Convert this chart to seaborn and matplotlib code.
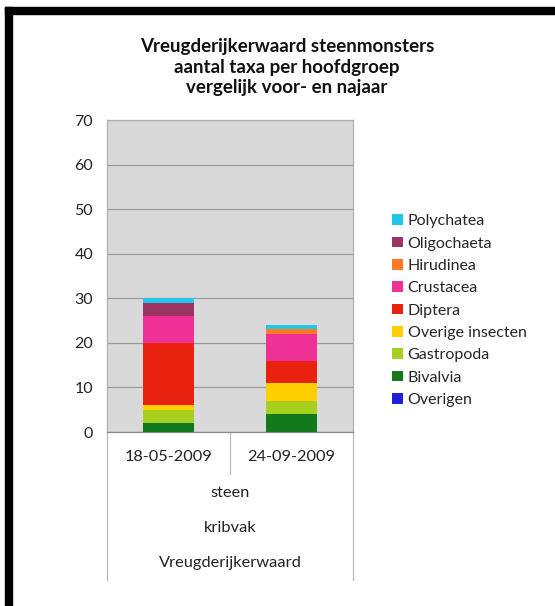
import matplotlib
matplotlib.use("Agg")
import matplotlib.pyplot as plt
from matplotlib.lines import Line2D
from matplotlib.patches import Patch, Rectangle
import numpy as np
import pandas as pd
import seaborn as sns

# Data
dates = ["18-05-2009", "24-09-2009"]
groups = ["Overigen", "Bivalvia", "Gastropoda", "Overige insecten", "Diptera",
          "Crustacea", "Hirudinea", "Oligochaeta", "Polychatea"]
overigen = [0, 0]
bivalvia = [2, 4]
gastropoda = [3, 3]
overige_insecten = [1, 4]
diptera = [14, 5]
crustacea = [6, 6]
hirudinea = [0, 1]
oligochaeta = [3, 0]
polychatea = [1, 1]
level2 = "steen"
level3 = "kribvak"
level4 = "Vreugderijkerwaard"
title = "Vreugderijkerwaard steenmonsters\naantal taxa per hoofdgroep\nvergelijk voor- en najaar"

colors = {
    "Overigen": "#2020d8",
    "Bivalvia": "#127a1c",
    "Gastropoda": "#a6cf1e",
    "Overige insecten": "#ffcf00",
    "Diptera": "#e8220f",
    "Crustacea": "#ee3097",
    "Hirudinea": "#ff7a22",
    "Oligochaeta": "#9c3462",
    "Polychatea": "#22c6ea",
}

values = [overigen, bivalvia, gastropoda, overige_insecten, diptera,
          crustacea, hirudinea, oligochaeta, polychatea]
cum = np.cumsum(np.array(values, dtype=float), axis=0)

sns.set_theme(style="white")
plt.rcParams["font.family"] = ["Lato", "DejaVu Sans"]

fig = plt.figure(figsize=(5.55, 6.06), dpi=100)
fig.patch.set_facecolor("white")
ax = fig.add_axes([107 / 555, 1 - 432 / 606, 246 / 555, 312 / 606])
ax.set_facecolor("#d9d9d9")

# stacked bars: draw cumulative totals from the top layer down
for i in range(len(groups) - 1, -1, -1):
    df = pd.DataFrame({"date": dates, "value": cum[i]})
    sns.barplot(data=df, x="date", y="value", color=colors[groups[i]],
                saturation=1, width=0.41, ax=ax, zorder=3, linewidth=0)

ax.set_ylim(0, 70)
ax.set_xlim(-0.5, 1.5)
ax.set_yticks(range(0, 71, 10))
ax.tick_params(axis="y", labelsize=11.5, length=0, pad=10, colors="#222222")
ax.set_xticks([])
ax.set_xlabel("")
ax.set_ylabel("")
ax.yaxis.grid(True, color="#9a9a9a", linewidth=0.9, zorder=0)
ax.set_axisbelow(True)
for side, sp in ax.spines.items():
    sp.set_color("#b0b0b0")
    sp.set_linewidth(0.9)
ax.spines["bottom"].set_color("#8a8a8a")

# multi-level category axis
def ay(ypix):
    return (432 - ypix) / 312

tc = "#222222"
fs = 11.8
for i, d in enumerate(dates):
    ax.text((i + 0.5) / 2, ay(457), d, transform=ax.transAxes, ha="center",
            va="center", fontsize=fs, color=tc)
ax.text(0.5, ay(493), level2, transform=ax.transAxes, ha="center", va="center",
        fontsize=fs, color=tc)
ax.text(0.5, ay(528), level3, transform=ax.transAxes, ha="center", va="center",
        fontsize=fs, color=tc)
ax.text(0.5, ay(563), level4, transform=ax.transAxes, ha="center", va="center",
        fontsize=fs, color=tc)
for x, y1 in [(0, ay(580)), (0.5, ay(474)), (1, ay(580))]:
    ax.add_line(Line2D([x, x], [0, y1], transform=ax.transAxes, color="#b8b8b8",
                       linewidth=0.9, clip_on=False))

fig.text(287 / 555, 1 - 67 / 606, title, ha="center", va="center",
         fontsize=13.5, fontweight="bold", linespacing=1.22, color="#111111")

handles = [Patch(facecolor=colors[g], edgecolor="none") for g in groups[::-1]]
fig.legend(handles, groups[::-1], loc="upper left",
           bbox_to_anchor=(386 / 555, 1 - 208 / 606), frameon=False,
           fontsize=11.5, handlelength=0.65, handleheight=0.65,
           handletextpad=0.3, labelspacing=0.52, borderaxespad=0)

# black frame along top and left edge
fig.patches.append(Rectangle((5 / 555, 1 - 14 / 606), 550 / 555, 7 / 606,
                             transform=fig.transFigure, color="black"))
fig.patches.append(Rectangle((5 / 555, 0), 7 / 555, 1 - 7 / 606,
                             transform=fig.transFigure, color="black"))

fig.savefig("out.png", dpi=100)
